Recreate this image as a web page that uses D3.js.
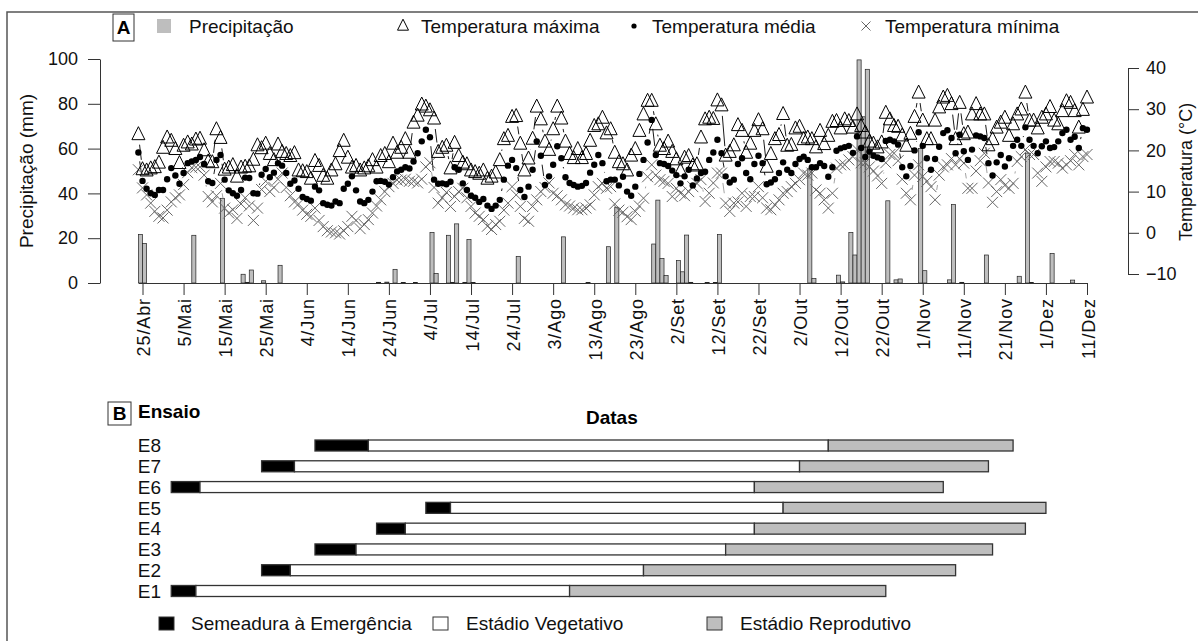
<!DOCTYPE html>
<html>
<head>
<meta charset="utf-8">
<script src="https://cdn.jsdelivr.net/npm/d3@7"></script>
<style>
  body { margin: 0; background: #fff; }
  svg { display: block; font-family: "Liberation Sans", Arial, sans-serif; }
</style>
</head>
<body>
<div id="chart"></div>
<script>
// ---- data (daily, from 24/Abr to 11/Dez) ----
const startDate = "2015-04-24";

const tmax = [
  23.8,15.3,15.0,15.5,15.8,16.9,20.5,23.0,22.2,20.2,
  16.8,21.0,21.8,21.3,22.5,22.7,19.9,17.2,17.0,25.0,
  22.9,15.2,15.7,16.3,13.5,15.7,15.9,16.0,17.6,21.1,
  20.4,21.5,19.0,17.5,21.3,19.5,19.0,18.5,19.2,15.0,
  14.8,14.6,13.0,17.3,16.1,13.7,13.0,15.0,16.5,19.7,
  22.2,18.1,15.7,16.1,15.0,15.5,16.0,17.5,15.7,18.5,
  19.0,17.0,21.5,19.3,20.5,22.6,19.3,26.6,28.3,31.0,
  30.5,29.6,27.6,19.5,20.5,21.0,15.5,21.7,18.5,16.9,
  16.5,15.0,14.6,14.2,15.0,13.0,13.5,14.5,17.5,22.6,
  23.4,28.0,28.2,21.5,15.0,17.9,22.7,30.5,27.4,22.0,
  20.0,25.0,30.5,27.6,22.0,19.0,18.0,20.2,18.0,19.0,
  22.2,25.8,26.2,27.8,24.0,25.0,19.3,17.0,16.5,15.0,
  18.6,20.2,24.6,28.6,31.9,31.9,26.2,21.0,20.2,22.0,
  19.5,17.7,15.0,18.1,18.5,16.2,16.5,23.0,27.4,27.8,
  27.5,32.0,30.8,18.6,19.5,21.1,26.0,24.6,19.3,21.5,
  24.6,27.2,25.0,15.9,19.0,22.6,23.6,28.7,21.0,21.2,
  25.2,25.6,22.6,23.0,22.6,20.6,24.6,21.4,23.4,26.8,
  27.0,25.2,27.4,27.0,25.4,28.6,25.8,24.2,22.0,21.5,
  20.6,21.8,29.0,27.4,25.8,25.6,23.5,21.0,23.9,28.0,
  33.9,27.1,22.6,22.6,27.1,30.3,32.7,33.1,31.1,22.6,
  31.4,23.8,24.2,28.6,31.1,28.6,28.6,21.1,22.6,25.4,
  26.6,27.8,23.4,26.2,28.6,29.8,33.9,27.1,27.1,25.2,
  27.8,28.6,30.4,27.1,26.2,29.4,31.8,31.4,29.4,25.4,
  29.7,32.7
];

const tmed = [
  19.5,12.6,10.7,9.6,9.2,10.4,10.4,13.0,15.7,13.9,
  11.9,14.5,16.9,17.3,17.7,18.4,16.7,12.5,12.1,17.7,
  18.9,12.9,10.3,9.6,9.0,10.4,13.4,13.3,9.6,9.5,
  14.1,15.5,13.5,14.6,16.9,16.3,14.5,11.9,12.7,10.7,
  8.7,8.2,7.8,11.2,10.3,7.2,6.8,6.6,7.6,7.2,
  10.7,11.9,13.7,10.3,7.6,7.2,8.0,10.0,12.5,12.6,
  12.4,11.7,13.5,14.9,15.3,15.9,15.6,17.3,19.3,22.2,
  25.0,23.2,12.9,11.9,12.0,11.8,12.4,15.9,15.3,12.0,
  10.4,9.0,8.5,7.5,8.2,6.6,5.8,6.6,8.0,12.9,
  16.3,17.7,15.7,10.4,8.7,11.2,15.3,22.2,18.7,11.6,
  13.7,16.5,21.0,18.1,13.5,12.1,11.6,11.2,11.4,12.1,
  14.6,16.5,18.9,16.9,12.5,12.9,12.9,11.5,13.6,10.0,
  9.0,11.2,14.3,17.7,21.9,27.4,18.9,16.9,16.7,16.2,
  15.1,14.0,12.0,13.7,15.3,11.5,13.2,14.5,14.8,17.7,
  19.5,22.6,19.3,13.7,12.2,12.9,16.7,18.1,14.5,13.0,
  16.7,18.7,16.9,11.8,12.2,13.0,14.5,17.1,15.3,14.5,
  16.7,17.9,18.5,17.7,15.9,15.9,16.9,16.2,13.6,15.9,
  19.9,20.5,20.8,21.1,19.4,23.4,20.6,18.4,19.7,18.7,
  18.3,17.9,22.3,22.6,22.2,21.4,15.9,13.7,16.2,20.0,
  24.4,21.1,18.1,15.3,17.9,20.9,24.2,24.9,23.0,19.3,
  23.8,19.8,17.7,20.2,23.6,23.4,23.0,16.9,13.9,17.1,
  18.9,16.1,18.1,21.1,22.6,21.1,25.6,22.6,21.1,19.3,
  21.0,22.2,20.6,20.8,22.2,24.2,25.0,22.6,23.3,20.6,
  25.4,25.0
];

const tmin = [
  15.3,10.9,9.2,7.2,5.2,4.0,3.6,5.5,7.5,8.5,
  9.2,11.7,14.6,15.8,15.9,16.0,14.0,8.8,7.5,9.0,
  12.0,6.0,4.8,5.6,3.5,7.0,8.5,6.5,3.0,6.0,
  10.5,12.5,10.0,11.0,13.0,14.5,11.0,9.0,7.5,7.0,
  5.5,4.5,4.0,6.0,3.0,1.5,0.5,0.2,0.0,-0.3,
  0.5,1.5,4.0,3.0,1.0,2.0,3.2,4.8,6.5,8.0,
  10.0,11.2,12.0,12.8,12.8,13.0,12.5,12.5,12.1,13.0,
  16.0,17.0,11.0,7.2,8.5,9.8,6.4,8.8,10.0,10.8,
  8.5,6.4,4.8,4.0,3.2,1.6,0.8,2.0,2.8,5.5,
  7.2,11.2,9.2,6.4,3.5,2.8,6.4,8.0,10.0,11.0,
  12.1,9.6,9.0,8.0,6.8,6.5,6.0,5.6,5.6,6.0,
  6.8,9.2,11.2,12.0,10.8,11.2,7.0,5.5,5.0,3.9,
  3.2,5.2,6.5,8.4,13.6,16.5,14.0,12.9,12.5,12.0,
  8.8,10.8,9.6,9.0,10.0,11.2,12.0,12.9,7.6,9.6,
  12.1,14.5,14.5,7.2,5.2,7.2,7.5,9.6,6.4,8.8,
  8.8,11.2,8.5,6.0,5.6,6.8,8.0,9.6,10.0,11.2,
  12.0,12.9,14.5,14.0,14.5,10.4,9.6,8.0,6.0,9.6,
  15.7,16.5,16.5,17.7,18.5,20.2,17.0,17.0,16.0,15.0,
  13.8,12.0,17.0,19.0,19.3,17.5,13.0,9.6,8.0,14.0,
  16.5,13.7,12.5,11.2,8.0,14.0,16.0,16.5,18.0,16.5,
  18.0,16.9,10.8,10.8,15.0,17.5,19.3,12.1,7.4,10.0,
  12.9,11.5,10.8,12.0,17.3,18.5,20.2,19.0,19.0,14.5,
  12.5,16.0,17.3,17.3,16.9,15.7,16.5,17.5,19.0,16.5,
  18.5,19.0
];

// rainy days only (mm)
const rainDates = [
  "2015-04-24","2015-04-25","2015-05-07","2015-05-14","2015-05-19","2015-05-20","2015-05-21",
  "2015-05-24","2015-05-28","2015-06-21","2015-06-23","2015-06-25","2015-06-27","2015-06-30",
  "2015-07-04","2015-07-05","2015-07-08","2015-07-09","2015-07-10","2015-07-12","2015-07-13",
  "2015-07-14","2015-07-25","2015-08-05","2015-08-11","2015-08-16","2015-08-18","2015-08-27",
  "2015-08-28","2015-08-29","2015-08-30","2015-09-02","2015-09-03","2015-09-04","2015-09-05",
  "2015-09-09","2015-09-11","2015-09-12","2015-10-04","2015-10-05","2015-10-11","2015-10-12",
  "2015-10-14","2015-10-15","2015-10-16","2015-10-17","2015-10-18","2015-10-23","2015-10-25",
  "2015-10-26","2015-10-31","2015-11-01","2015-11-07","2015-11-08","2015-11-10","2015-11-16",
  "2015-11-24","2015-11-26","2015-11-27","2015-12-02","2015-12-07"
];
const rainMm = [
  21.7,17.7,21.3,37.8,3.9,0.3,5.8,
  1.0,7.9,0.3,0.4,6.1,0.2,0.2,
  22.6,4.3,21.3,0.3,26.4,0.3,19.4,
  0.2,11.9,20.6,0.2,16.2,33.8,17.4,
  37.0,11.0,3.3,10.0,5.0,21.4,0.3,
  0.2,0.2,21.6,51.0,2.0,3.5,0.5,
  22.6,12.5,99.6,74.2,95.4,36.7,1.4,
  1.8,60.0,5.5,1.4,35.0,0.3,12.5,
  3.0,58.0,0.2,13.2,1.3
];

const tickLabels = ["25/Abr","5/Mai","15/Mai","25/Mai","4/Jun","14/Jun","24/Jun","4/Jul",
  "14/Jul","24/Jul","3/Ago","13/Ago","23/Ago","2/Set","12/Set","22/Set","2/Out","12/Out",
  "22/Out","1/Nov","11/Nov","21/Nov","1/Dez","11/Dez"];

// panel B: trials
const ensaios = ["E1","E2","E3","E4","E5","E6","E7","E8"];
const semeadura = ["2015-05-02","2015-05-24","2015-06-06","2015-06-21","2015-07-03","2015-05-02","2015-05-24","2015-06-06"];
const emergencia = ["2015-05-08","2015-05-31","2015-06-16","2015-06-28","2015-07-09","2015-05-09","2015-06-01","2015-06-19"];
const florescimento = ["2015-08-07","2015-08-25","2015-09-14","2015-09-21","2015-09-28","2015-09-21","2015-10-02","2015-10-09"];
const colheita = ["2015-10-23","2015-11-09","2015-11-18","2015-11-26","2015-12-01","2015-11-06","2015-11-17","2015-11-23"];

// ---- setup ----
const W = 1198, H = 641;
const FONT = 19, AXF = 18;
const GREY = "#bebebe", XGREY = "#666", INK = "#222";

const svg = d3.select("#chart").append("svg")
  .attr("width", W).attr("height", H);

const parse = d3.timeParse("%Y-%m-%d");
const t0 = parse(startDate);
const days = tmax.map((_, i) => d3.timeDay.offset(t0, i));

const x = d3.scaleTime().domain([t0, days[days.length - 1]]).range([138.4, 1087]);
const yP = d3.scaleLinear().domain([0, 100]).range([283, 59]);
const yT = d3.scaleLinear().domain([-10, 40]).range([274, 68]);
const dayW = x(days[1]) - x(days[0]);

// frame
svg.append("path").attr("d", `M7,${H}V12H${W}`)
  .attr("fill", "none").attr("stroke", "#555").attr("stroke-width", 1.5);

// ---- panel A ----
const A = svg.append("g");

// precipitation bars
const rain = rainDates.map((d, i) => ({ date: parse(d), mm: rainMm[i] }));
A.append("g").selectAll("rect").data(rain).join("rect")
  .attr("x", d => x(d.date))
  .attr("y", d => yP(d.mm))
  .attr("width", dayW)
  .attr("height", d => yP(0) - yP(d.mm))
  .attr("fill", GREY)
  .attr("stroke", INK)
  .attr("stroke-width", 0.7);

// x axis
const tickDates = tickLabels.map((_, i) => d3.timeDay.offset(t0, 1 + 10 * i));
const xAxis = A.append("g")
  .attr("transform", `translate(0,${yP(0)})`)
  .call(d3.axisBottom(x).tickValues(tickDates).tickSize(12).tickSizeOuter(0)
    .tickFormat((d, i) => tickLabels[i]));
xAxis.selectAll("text")
  .attr("transform", "rotate(-90)")
  .attr("text-anchor", "end")
  .attr("x", -15).attr("y", 7).attr("dy", 0)
  .attr("letter-spacing", 0.9)
  .attr("font-size", AXF).attr("fill", "#111");

// left axis
const yAxisL = A.append("g")
  .attr("transform", "translate(100,0)")
  .call(d3.axisLeft(yP).tickValues([0, 20, 40, 60, 80, 100]).tickSize(12).tickSizeOuter(0).tickPadding(10));
yAxisL.selectAll("text").attr("font-size", AXF).attr("fill", "#111");

// right axis
const yAxisR = A.append("g")
  .attr("transform", "translate(1128,0)")
  .call(d3.axisRight(yT).tickValues([-10, 0, 10, 20, 30, 40]).tickSize(11).tickSizeOuter(0).tickPadding(7));
yAxisR.selectAll("text").attr("font-size", AXF).attr("fill", "#111");

svg.selectAll(".domain, .tick line").attr("stroke", "#333");
svg.selectAll(".tick text").attr("font-family", "Liberation Sans, Arial, sans-serif");

// axis titles
A.append("text").attr("transform", "translate(33,171) rotate(-90)")
  .attr("text-anchor", "middle").attr("font-size", FONT).attr("fill", "#111")
  .text("Precipitação (mm)");
A.append("text").attr("transform", "translate(1192,172) rotate(-90)")
  .attr("text-anchor", "middle").attr("font-size", 18).attr("fill", "#111")
  .text("Temperatura (°C)");

// type "b" style connecting segments (gaps around each symbol)
function bLines(vals, gap, color) {
  const pts = vals.map((v, i) => [x(days[i]), yT(v)]);
  const segs = d3.pairs(pts).map(([p, q]) => {
    const dx = q[0] - p[0], dy = q[1] - p[1], L = Math.hypot(dx, dy);
    if (L <= 2 * gap) return null;
    const ux = dx / L, uy = dy / L;
    return [p[0] + ux * gap, p[1] + uy * gap, q[0] - ux * gap, q[1] - uy * gap];
  }).filter(Boolean);
  A.append("g").selectAll("line").data(segs).join("line")
    .attr("x1", d => d[0]).attr("y1", d => d[1])
    .attr("x2", d => d[2]).attr("y2", d => d[3])
    .attr("stroke", color).attr("stroke-width", 0.9);
}
bLines(tmin, 10, "#999");
bLines(tmed, 9, "#000");
bLines(tmax, 10, "#000");

// symbols
const tri = s => `M0,${-s * 0.62}L${s / 2},${s * 0.38}L${-s / 2},${s * 0.38}Z`;
const cross = s => `M${-s},${-s}L${s},${s}M${-s},${s}L${s},${-s}`;

A.append("g").selectAll("path").data(tmin).join("path")
  .attr("transform", (d, i) => `translate(${x(days[i])},${yT(d)})`)
  .attr("d", cross(5.5)).attr("stroke", XGREY).attr("stroke-width", 1).attr("fill", "none");

A.append("g").selectAll("circle").data(tmed).join("circle")
  .attr("cx", (d, i) => x(days[i])).attr("cy", d => yT(d))
  .attr("r", 3.2).attr("fill", "#000");

A.append("g").selectAll("path").data(tmax).join("path")
  .attr("transform", (d, i) => `translate(${x(days[i])},${yT(d)})`)
  .attr("d", tri(13)).attr("stroke", "#000").attr("stroke-width", 1).attr("fill", "none");

// legend A
A.append("rect").attr("x", 113).attr("y", 14).attr("width", 21).attr("height", 27)
  .attr("fill", "none").attr("stroke", "#333");
A.append("text").attr("x", 123.5).attr("y", 34).attr("text-anchor", "middle")
  .attr("font-size", FONT).attr("font-weight", "bold").text("A");

const legA = A.append("g").attr("font-size", FONT).attr("fill", "#111");
legA.append("rect").attr("x", 157).attr("y", 19).attr("width", 14).attr("height", 14).attr("fill", GREY);
legA.append("text").attr("x", 189).attr("y", 33).text("Precipitação");
legA.append("path").attr("transform", "translate(403,26)").attr("d", tri(11))
  .attr("fill", "none").attr("stroke", "#000");
legA.append("text").attr("x", 421).attr("y", 33).text("Temperatura máxima");
legA.append("circle").attr("cx", 634).attr("cy", 26).attr("r", 2.6).attr("fill", "#000");
legA.append("text").attr("x", 652).attr("y", 33).text("Temperatura média");
legA.append("path").attr("transform", "translate(866,26)").attr("d", cross(4.5))
  .attr("stroke", XGREY).attr("fill", "none");
legA.append("text").attr("x", 885).attr("y", 33).text("Temperatura mínima");

// ---- panel B ----
const B = svg.append("g");
const row = d3.scalePoint().domain(ensaios).range([591, 445.5]);
const barH = 11;

const phases = [];
ensaios.forEach((e, i) => {
  phases.push({ e, a: parse(semeadura[i]), b: parse(emergencia[i]), fill: "#000" });
  phases.push({ e, a: parse(emergencia[i]), b: parse(florescimento[i]), fill: "#fff" });
  phases.push({ e, a: parse(florescimento[i]), b: parse(colheita[i]), fill: GREY });
});
B.append("g").selectAll("rect").data(phases).join("rect")
  .attr("x", d => x(d.a)).attr("y", d => row(d.e) - barH / 2)
  .attr("width", d => x(d.b) - x(d.a)).attr("height", barH)
  .attr("fill", d => d.fill).attr("stroke", "#333").attr("stroke-width", 1.3);

B.append("g").selectAll("text").data(ensaios).join("text")
  .attr("x", 161).attr("y", d => row(d)).attr("dy", "0.36em")
  .attr("text-anchor", "end").attr("font-size", FONT).attr("fill", "#111")
  .text(d => d);

B.append("rect").attr("x", 108).attr("y", 402).attr("width", 23).attr("height", 23)
  .attr("fill", "none").attr("stroke", "#333");
B.append("text").attr("x", 119.5).attr("y", 420).attr("text-anchor", "middle")
  .attr("font-size", FONT).attr("font-weight", "bold").text("B");
B.append("text").attr("x", 138).attr("y", 418).attr("font-size", FONT)
  .attr("font-weight", "bold").text("Ensaio");
B.append("text").attr("x", 586).attr("y", 424).attr("font-size", FONT)
  .attr("font-weight", "bold").text("Datas");

const legB = B.append("g").attr("font-size", FONT).attr("fill", "#111");
[
  { x: 159, fill: "#000", tx: 191, label: "Semeadura à Emergência" },
  { x: 433, fill: "#fff", tx: 466, label: "Estádio Vegetativo" },
  { x: 707, fill: GREY, tx: 740, label: "Estádio Reprodutivo" }
].forEach(l => {
  legB.append("rect").attr("x", l.x).attr("y", 617).attr("width", 15).attr("height", 13)
    .attr("fill", l.fill).attr("stroke", "#333");
  legB.append("text").attr("x", l.tx).attr("y", 630).text(l.label);
});
</script>
</body>
</html>
